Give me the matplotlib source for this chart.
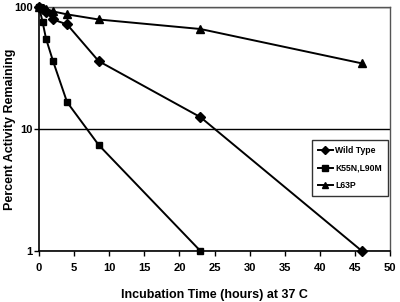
import matplotlib
matplotlib.use('Agg')
import matplotlib.pyplot as plt
from matplotlib.ticker import FixedLocator, NullLocator

plt.rcParams['font.family'] = ['Liberation Sans', 'DejaVu Sans']
plt.rcParams['font.weight'] = 'bold'

# Incubation times (hours)
times = [0, 0.5, 1, 2, 4, 8.5, 23, 46]
times_mut = [0, 0.5, 1, 2, 4, 8.5, 23]

# Percent activity remaining
wild_type = [100, 97, 91, 79, 72, 36, 12.5, 1.0]
k55n_l90m = [100, 76, 55, 36, 16.6, 7.4, 1.0]
l63p = [100, 99, 97, 92, 87, 79, 66, 34.5]

fig = plt.figure(figsize=(4.0, 3.02), dpi=100)
ax = fig.add_axes([39 / 400, 1 - 251 / 302, (390 - 39) / 400, (251 - 7) / 302])

ax.plot(times, wild_type, color='black', lw=1.4, marker='D', ms=5.5, label='Wild Type', clip_on=False, zorder=3)
ax.plot(times_mut, k55n_l90m, color='black', lw=1.4, marker='s', ms=4.5, label='K55N,L90M', clip_on=False, zorder=3)
ax.plot(times, l63p, color='black', lw=1.4, marker='^', ms=6, label='L63P', clip_on=False, zorder=3)

ax.set_yscale('log')
ax.set_xlim(0, 50)
ax.set_ylim(1, 100)
ax.xaxis.set_major_locator(FixedLocator(range(0, 51, 5)))
ax.yaxis.set_major_locator(FixedLocator([1, 10, 100]))
ax.yaxis.set_minor_locator(NullLocator())
ax.set_yticklabels(['1', '10', '100'])
ax.yaxis.grid(True, color='black', lw=1.0)
ax.set_axisbelow(True)

for side in ['top', 'right']:
    ax.spines[side].set_color('#555555')
    ax.spines[side].set_linewidth(1.0)
ax.spines['left'].set_linewidth(1.2)
ax.spines['bottom'].set_linewidth(1.2)

ax.tick_params(axis='both', direction='out', length=3.5, width=1.0, labelsize=8)
ax.tick_params(axis='y', pad=1)
ax.tick_params(axis='x', pad=5)

ax.set_xlabel('Incubation Time (hours) at 37 C', fontsize=9, fontweight='bold', labelpad=12)
ax.set_ylabel('Percent Activity Remaining', fontsize=9, fontweight='bold')
ax.yaxis.set_label_coords((16 - 39) / 351, 0.5)

leg = ax.legend(loc='upper left', bbox_to_anchor=((312 - 39) / 351, (251 - 140) / 244),
                fontsize=6.2, frameon=True, fancybox=False, handlelength=1.7,
                handletextpad=0.3, borderpad=0.7, labelspacing=1.0, borderaxespad=0)
leg.get_frame().set_edgecolor('black')
leg.get_frame().set_linewidth(1.0)
for h in leg.legend_handles:
    h.set_markersize(4.5)

plt.savefig('out.png', dpi=100)
plt.close()
